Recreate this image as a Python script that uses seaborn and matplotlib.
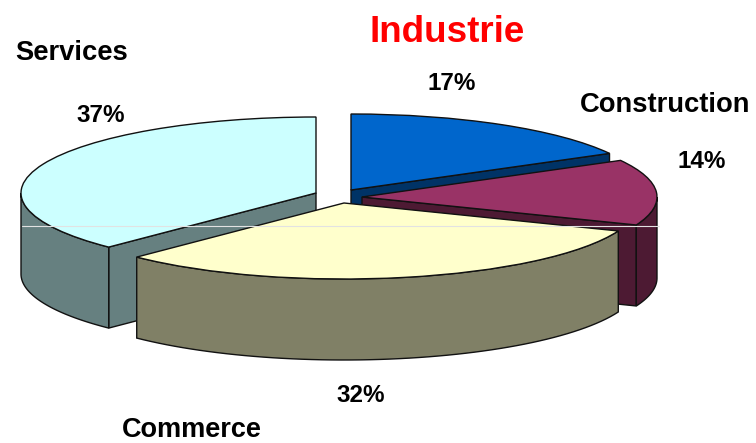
import matplotlib
matplotlib.use("Agg")
import matplotlib.pyplot as plt
import numpy as np
import seaborn as sns

# Data
categories = ["Industrie", "Construction", "Commerce", "Services"]
shares = [17, 14, 31.4, 37.6]
pct_labels = ["17%", "14%", "32%", "37%"]
top_colors = ["#0066CC", "#993366", "#FFFFCC", "#CCFFFF"]

W, H = 756, 443
RX, RY, DEPTH = 295, 76, 81
# where each exploded slice has its tip, in pixels
apex_px = [(351, 190), (362, 197), (344, 203), (316, 193)]

sns.set_theme(style="white")
plt.rcParams["font.family"] = ["Liberation Sans", "DejaVu Sans"]
palette = sns.color_palette(top_colors)
wall_colors = [tuple(c * 0.5 for c in col) for col in palette]
wall_colors[2] = (0.5, 0.5, 0.4)
wall_colors[3] = (0.4, 0.5, 0.5)

fig = plt.figure(figsize=(W / 100, H / 100), dpi=100, facecolor="white")
ax = fig.add_axes([0, 0, 1, 1])

wedges, _ = ax.pie(
    shares,
    colors=palette,
    startangle=90,
    counterclock=False,
    radius=1,
    wedgeprops={"edgecolor": "#111111", "linewidth": 1.0},
)
ax.set_aspect("auto")
ax.set_xlim(0, W / RX)
ax.set_ylim(0, H / RY)
ax.axis("off")

depth = DEPTH / RY
edges = np.cumsum([0] + shares) / 100 * 360


def rim(cx, cy, a0, a1):
    t = np.radians(np.linspace(a0, a1, 60))
    x = cx + np.sin(t)
    y = cy + np.cos(t)
    return np.r_[x, x[::-1]], np.r_[y, y[::-1] - depth]


def cut(cx, cy, a):
    t = np.radians(a)
    ex, ey = cx + np.sin(t), cy + np.cos(t)
    return [cx, ex, ex, cx], [cy, ey, ey - depth, cy - depth]


# back to front: Services, Industrie, Construction, Commerce
for i in [3, 0, 1, 2]:
    px, py = apex_px[i]
    cx, cy = px / RX, (H - py) / RY
    a0, a1 = edges[i], edges[i + 1]
    z = {3: 1, 0: 2, 1: 3, 2: 4}[i]

    walls = []
    if a1 > 0 and a1 <= 180:
        walls.append(cut(cx, cy, a1))
    if i == 3:
        walls.append(cut(cx, cy, a0))
    if a1 > 90 and a0 < 270:
        walls.append(rim(cx, cy, max(a0, 90), min(a1, 270)))
    for wx, wy in walls:
        ax.fill(wx, wy, facecolor=wall_colors[i], edgecolor="#111111",
                linewidth=1.0, zorder=z)

    wedges[i].set_center((cx, cy))
    wedges[i].set_zorder(z + 0.5)

# thin light line that runs through the picture
ax.plot([22 / RX, 659 / RX], [(H - 226) / RY] * 2, color="#e2e2e2",
        linewidth=0.8, zorder=6)


def label(px, py, text, **kw):
    ax.text(px / RX, (H - py) / RY, text, ha="center", va="center",
            fontweight="bold", zorder=7, **kw)


label(447, 33, categories[0], fontsize=26.5, color="#FF0000")
label(665, 105, categories[1], fontsize=19.7, color="black")
label(192, 430, categories[2], fontsize=19.5, color="black")
label(72, 53, categories[3], fontsize=19.7, color="black")

label(452, 84, pct_labels[0], fontsize=17.5, color="black")
label(702, 161, pct_labels[1], fontsize=17.5, color="black")
label(361, 396, pct_labels[2], fontsize=17.5, color="black")
label(101, 115, pct_labels[3], fontsize=17.5, color="black")

fig.savefig("out.png", dpi=100)
